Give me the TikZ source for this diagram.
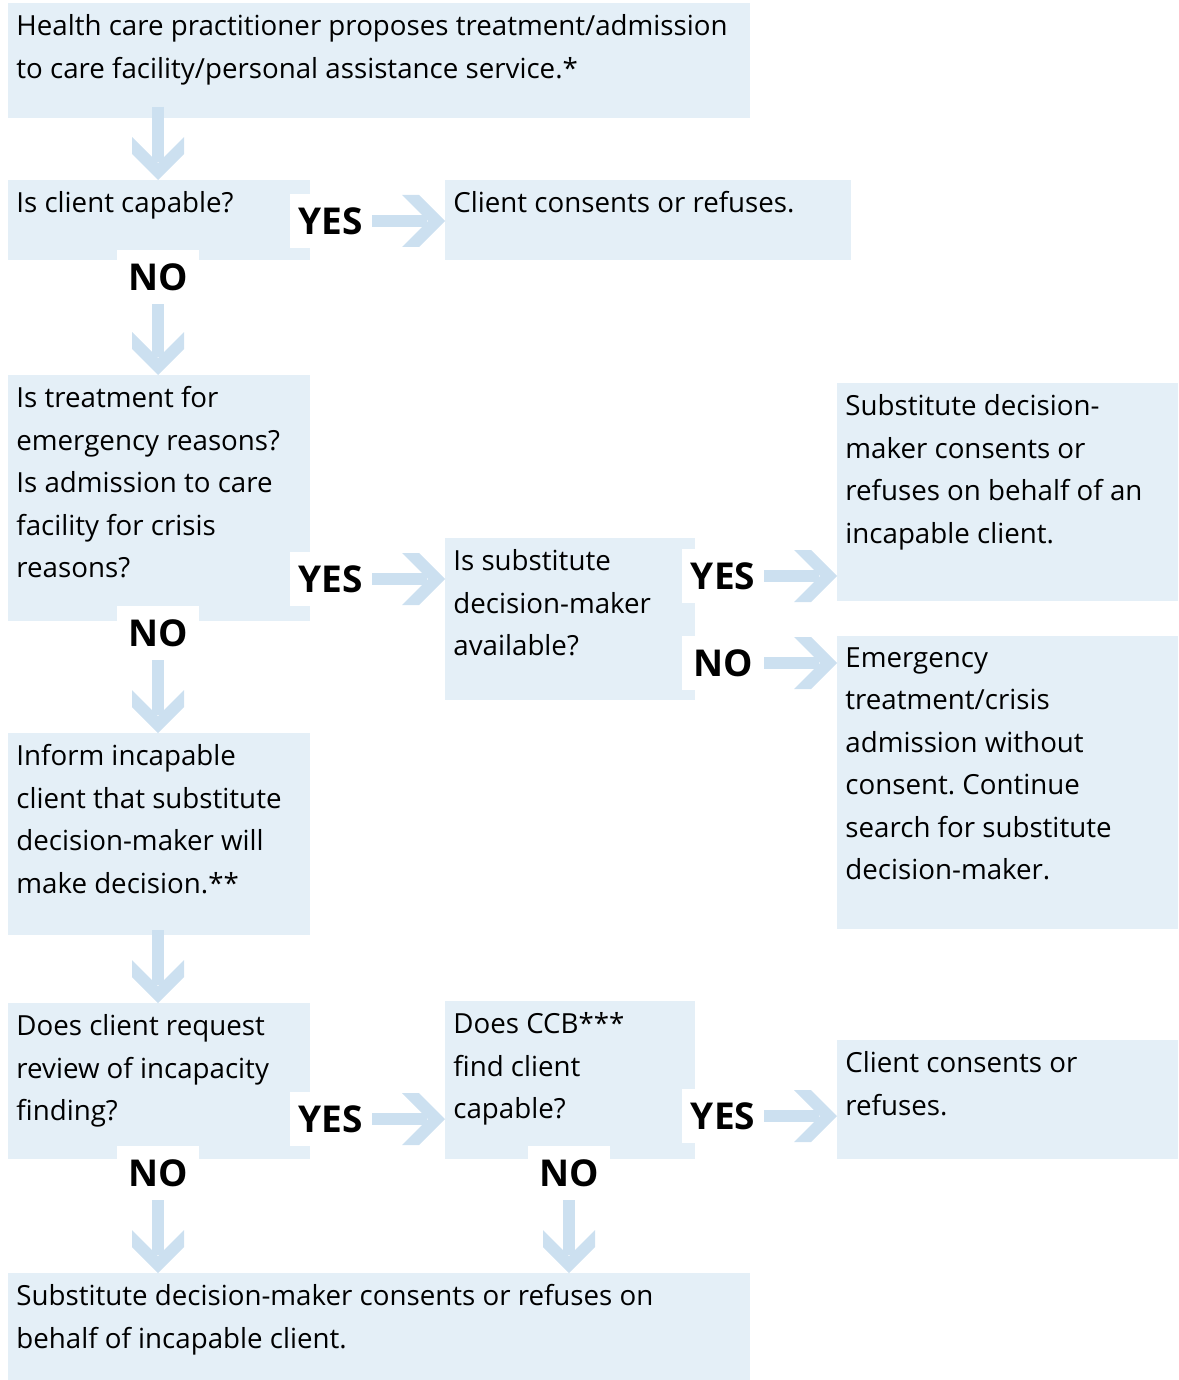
\documentclass[tikz,border=0pt]{standalone}
\usepackage{fontspec}
\setmainfont{Open Sans}
\usetikzlibrary{arrows.meta}
\frenchspacing

\definecolor{boxblue}{RGB}{228,239,247}
\definecolor{arrowblue}{RGB}{204,224,240}

% broad chevron tip of the flow arrows
\pgfdeclarearrow{
  name = Chev,
  setup code = {
    \pgfarrowssettipend{0pt}
    \pgfarrowssetlineend{-9pt}
    \pgfarrowssetbackend{-21.5pt}
    \pgfarrowsupperhullpoint{0pt}{0pt}
    \pgfarrowsupperhullpoint{-21.5pt}{13pt}
  },
  drawing code = {
    \pgfpathmoveto{\pgfqpoint{0pt}{0pt}}
    \pgfpathlineto{\pgfqpoint{-13pt}{13pt}}
    \pgfpathlineto{\pgfqpoint{-21.5pt}{13pt}}
    \pgfpathlineto{\pgfqpoint{-8.5pt}{0pt}}
    \pgfpathlineto{\pgfqpoint{-21.5pt}{-13pt}}
    \pgfpathlineto{\pgfqpoint{-13pt}{-13pt}}
    \pgfpathclose
    \pgfusepathqfill
  }
}

\tikzset{
  box/.style={fill=boxblue, inner sep=0pt, anchor=north west},
  txt/.style={anchor=north west, inner sep=0pt, align=left,
    font=\fontsize{13.85}{21.25}\selectfont\frenchspacing, execute at begin node={\strut}},
  answer/.style={fill=white, inner sep=0pt, minimum width=41pt, minimum height=27pt,
    font=\fontsize{18.5}{20}\selectfont\bfseries},
  flowarrow/.style={arrowblue, line width=6pt, -Chev},
}

\begin{document}
\begin{tikzpicture}[x=0.5pt, y=-0.5pt]
			\useasboundingbox (0,0) rectangle (1178,1380);

			% boxes
			\node[box, minimum width=371pt, minimum height=57.5pt] (propose) at (8,3) {};
			\node[box, minimum width=151pt, minimum height=40pt] (capable) at (8,180) {};
			\node[box, minimum width=203pt, minimum height=40pt] (consent) at (445,180) {};
			\node[box, minimum width=151pt, minimum height=123pt] (emerg) at (8,375) {};
			\node[box, minimum width=125pt, minimum height=81pt] (avail) at (445,538) {};
			\node[box, minimum width=170.5pt, minimum height=109pt] (sdmdecide) at (837,383) {};
			\node[box, minimum width=170.5pt, minimum height=146.5pt] (crisis) at (837,636) {};
			\node[box, minimum width=151pt, minimum height=101pt] (inform) at (8,733) {};
			\node[box, minimum width=151pt, minimum height=78pt] (review) at (8,1003) {};
			\node[box, minimum width=125pt, minimum height=79pt] (ccb) at (445,1001) {};
			\node[box, minimum width=170.5pt, minimum height=59.5pt] (capconsent) at (837,1040) {};
			\node[box, minimum width=371pt, minimum height=53.5pt] (sdmfinal) at (8,1273) {};

			% texts
			\node[txt] (proposetxt) at ([xshift=4pt, yshift=-5.6pt]propose.north west)
			  {Health care practitioner proposes treatment/admission\\to care facility/personal assistance service.*};
			\node[txt] (capabletxt) at ([xshift=4pt, yshift=-1.1pt]capable.north west)
			  {Is client capable?};
			\node[txt] (consenttxt) at ([xshift=4pt, yshift=-1.1pt]consent.north west)
			  {Client consents or refuses.};
			\node[txt] (emergtxt) at ([xshift=4pt, yshift=-5.6pt]emerg.north west)
			  {Is treatment for\\emergency reasons?\\Is admission to care\\facility for crisis\\reasons?};
			\node[txt] (availtxt) at ([xshift=4pt, yshift=-5.6pt]avail.north west)
			  {Is substitute\\decision-maker\\available?};
			\node[txt] (sdmdecidetxt) at ([xshift=4pt, yshift=-5.6pt]sdmdecide.north west)
			  {Substitute decision-\\maker consents or\\refuses on behalf of an\\incapable client.};
			\node[txt] (crisistxt) at ([xshift=4pt, yshift=-5.6pt]crisis.north west)
			  {Emergency\\treatment/crisis\\admission without\\consent. Continue\\search for substitute\\decision-maker.};
			\node[txt] (informtxt) at ([xshift=4pt, yshift=-5.6pt]inform.north west)
			  {Inform incapable\\client that substitute\\decision-maker will\\make decision.**};
			\node[txt] (reviewtxt) at ([xshift=4pt, yshift=-5.6pt]review.north west)
			  {Does client request\\review of incapacity\\finding?};
			\node[txt] (ccbtxt) at ([xshift=4pt, yshift=-5.6pt]ccb.north west)
			  {Does CCB***\\find client\\capable?};
			\node[txt] (capconsenttxt) at ([xshift=4pt, yshift=-5.6pt]capconsent.north west)
			  {Client consents or\\refuses.};
			\node[txt] (sdmfinaltxt) at ([xshift=4pt, yshift=-5.6pt]sdmfinal.north west)
			  {Substitute decision-maker consents or refuses on\\behalf of incapable client.};

			% answers
			\node[answer] (yes1) at (331,221) {YES};
			\node[answer] (no1) at (158,277) {NO};
			\node[answer] (yes2) at (331,579) {YES};
			\node[answer] (no2) at (158,633) {NO};
			\node[answer] (yes3) at (723,576) {YES};
			\node[answer] (no3) at (723,663) {NO};
			\node[answer] (yes4) at (331,1119) {YES};
			\node[answer] (no4) at (158,1173) {NO};
			\node[answer] (yes5) at (723,1116) {YES};
			\node[answer] (no5) at (569,1173) {NO};

			\coordinate (out1) at (158,107);
			\coordinate (out2) at (158,930);

			% arrows
			\draw[flowarrow] (out1) -- (capable.north -| out1);
			\draw[flowarrow] (no1.south) -- (emerg.north -| no1);
			\draw[flowarrow] (no2.south) -- (inform.north -| no2);
			\draw[flowarrow] (out2) -- (review.north -| out2);
			\draw[flowarrow] (no4.south) -- (sdmfinal.north -| no4);
			\draw[flowarrow] (no5.south) -- (sdmfinal.north -| no5);
			\draw[flowarrow] (yes1.east) -- (yes1.east -| consent.west);
			\draw[flowarrow] (yes2.east) -- (yes2.east -| avail.west);
			\draw[flowarrow] (yes3.east) -- (yes3.east -| sdmdecide.west);
			\draw[flowarrow] (no3.east) -- (no3.east -| crisis.west);
			\draw[flowarrow] (yes4.east) -- (yes4.east -| ccb.west);
			\draw[flowarrow] (yes5.east) -- (yes5.east -| capconsent.west);

\end{tikzpicture}
\end{document}
